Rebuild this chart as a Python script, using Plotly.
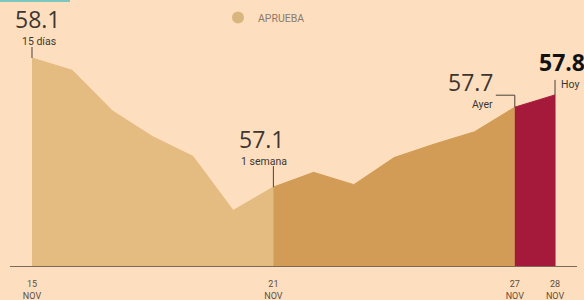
import plotly.graph_objects as go

# ---- data ----
days = [15, 16, 17, 18, 19, 20, 21, 22, 23, 24, 25, 26, 27, 28]
approval = [58.1, 58.0, 57.67, 57.46, 57.3, 56.86, 57.05, 57.17, 57.07, 57.29, 57.4, 57.5, 57.7, 57.8]
tick_days = [15, 21, 27, 28]
tick_text = ["15<br>NOV", "21<br>NOV", "27<br>NOV", "28<br>NOV"]
series_name = "APRUEBA"
# callouts: (day, label, sublabel)
callouts = [(15, "58.1", "15 días"), (21, "57.1", "1 semana"), (27, "57.7", "Ayer"), (28, "57.8", "Hoy")]
segments = [(15, 21, "#E4BB80"), (21, 27, "#D29C56"), (27, 28, "#A51A3A")]

W, H = 584, 300
MT, MB = 0, 33
PH = H - MT - MB
XR = [14.205, 28.72]
YR = [56.40, 58.572]
pxu = PH / (YR[1] - YR[0])  # pixels per unit (y)
pxd = W / (XR[1] - XR[0])   # pixels per day

BG = "#FDDFBF"
TXT = "#3d3630"
FONT = "Roboto, Open Sans, sans-serif"
NFONT = "Open Sans, Roboto, sans-serif"
NSIZE = 23
SSIZE = 10.5

fig = go.Figure()

for d0, d1, col in segments:
    xs = [d for d in days if d0 <= d <= d1]
    ys = [v for d, v in zip(days, approval) if d0 <= d <= d1]
    fig.add_trace(go.Scatter(
        x=xs + [xs[-1], xs[0]], y=ys + [YR[0], YR[0]],
        fill="toself", fillcolor=col, mode="lines",
        line=dict(color=col, width=1), showlegend=False, hoverinfo="skip"))

# legend-only trace
fig.add_trace(go.Scatter(x=[None], y=[None], mode="markers", name=series_name,
                         marker=dict(color="#D8B67E", size=9, symbol="circle"),
                         showlegend=True))

val = dict(zip(days, approval))
ann = []
shapes = []

def vline(d, v, up_px_from, up_px_to):
    shapes.append(dict(type="line", xref="x", yref="y", x0=d, x1=d,
                       y0=v + up_px_from / pxu, y1=v + up_px_to / pxu,
                       line=dict(color="#4a4038", width=1)))

def label(d, v, text, xs, ys, size, color, family, anchor="center"):
    ann.append(dict(x=d, y=v, xref="x", yref="y", text=text, showarrow=False,
                    xanchor=anchor, xshift=xs, yshift=ys, borderpad=0,
                    font=dict(size=size, color=color, family=family)))

# 15 días
d, lab, sub = callouts[0]
v = val[d]
label(d, v, lab, 6, 39, NSIZE, TXT, NFONT)
label(d, v, sub, 7, 17, SSIZE, TXT, FONT)
vline(d, v, 0, 11)

# 1 semana
d, lab, sub = callouts[1]
v = val[d]
label(d, v, lab, -11, 48, NSIZE, TXT, NFONT)
label(d, v, sub, -9, 26, SSIZE, TXT, FONT)
vline(d, v, 0, 21)

# Ayer
d, lab, sub = callouts[2]
v = val[d]
label(d, v, lab, -44, 25, NSIZE, TXT, NFONT)
label(d, v, sub, -32, 3, SSIZE, TXT, FONT)
vline(d, v, 0, 12)
shapes.append(dict(type="line", xref="x", yref="y", x0=d - 19 / pxd, x1=d,
                   y0=v + 12 / pxu, y1=v + 12 / pxu, line=dict(color="#4a4038", width=1)))

# Hoy
d, lab, sub = callouts[3]
v = val[d]
label(d, v, "<b>" + lab + "</b>", -17, 33, NSIZE, "#111111", NFONT, "left")
label(d, v, sub, 5, 10, SSIZE, TXT, FONT, "left")
vline(d, v, 0, 15)

# baseline axis line
shapes.append(dict(type="line", xref="x", yref="y", x0=XR[0] + 10 / pxd, x1=XR[0] + 577 / pxd,
                   y0=YR[0], y1=YR[0], line=dict(color="#7d6b58", width=2)))
# teal bar top-left
shapes.append(dict(type="rect", xref="paper", yref="paper", x0=0, x1=70 / W,
                   y0=1 - 2 / PH, y1=1, line=dict(width=0), fillcolor="#7CC8C0"))

fig.update_layout(
    width=W, height=H,
    margin=dict(l=0, r=0, t=MT, b=MB, pad=0),
    paper_bgcolor=BG, plot_bgcolor=BG,
    font=dict(family=FONT, color=TXT),
    showlegend=True,
    legend=dict(x=218 / W, y=1 - 3 / PH, xanchor="left", yanchor="top",
                bgcolor="rgba(0,0,0,0)", font=dict(size=10.5, color="#8b7b6b", family=FONT),
                itemsizing="constant"),
    xaxis=dict(range=XR, showgrid=False, zeroline=False, showline=False,
               tickvals=tick_days, ticktext=tick_text, ticks="outside", ticklen=8,
               tickcolor="rgba(0,0,0,0)",
               tickfont=dict(size=9, color="#5e4e3e", family=FONT)),
    yaxis=dict(range=YR, showgrid=False, zeroline=False, showline=False,
               showticklabels=False, ticks=""),
    annotations=ann, shapes=shapes,
    hovermode=False,
)

fig.write_html("out.html", config={"displayModeBar": False},
               post_script="document.body.style.margin='0';document.body.style.background='" + BG + "';")
